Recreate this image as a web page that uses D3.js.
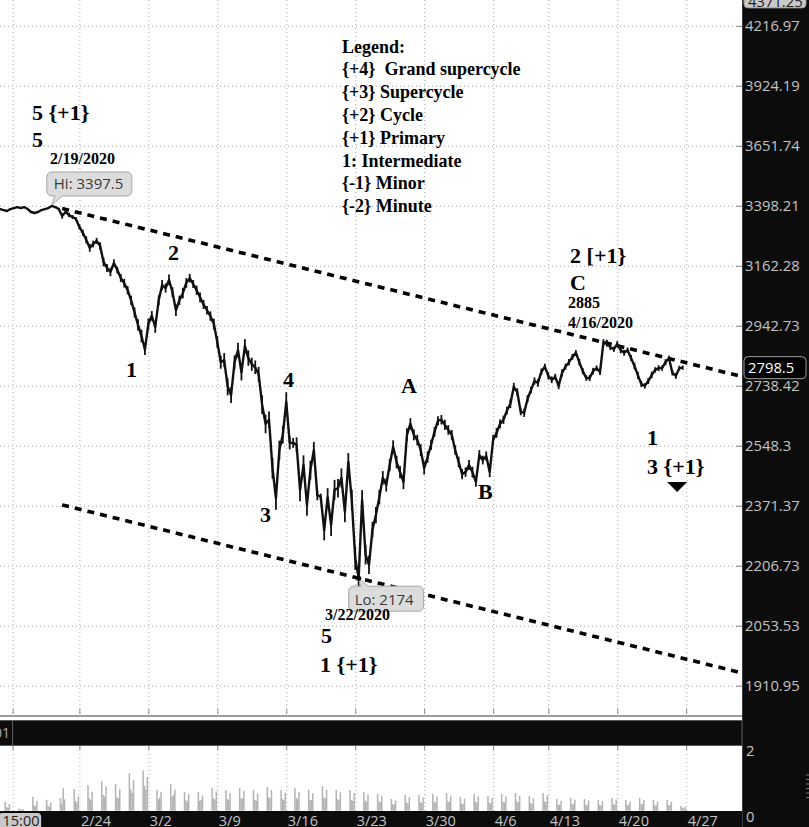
<!DOCTYPE html>
<html><head><meta charset="utf-8">
<script src="https://cdn.jsdelivr.net/npm/d3@7"></script>
<style>
html,body{margin:0;padding:0;background:#fff;}
svg{display:block;}
text{white-space:pre;}
</style>
</head><body>
<svg id="chart" width="809" height="827"></svg>
<script>
// ---------------- DATA ----------------
// session index 0 = 2/24 session open; price sampled every quarter session
const priceStart = -5.75;
const priceStep = 0.25;
const prices = [
 3385,3381,3377,3385,3389,3393,3389,3393,3385,3373,
 3369,3373,3381,3385,3389,3397.5,3393,3385,3357,3373,
 3361,3353,3345,3313,3290,3262,3231,3246,3258,3239,
 3177,3154,3139,3173,3146,3116,3097,3071,3034,2990,
 2946,2907,2860,2949,2978,2939,3034,3090,3079,3109,
 3064,2998,3034,3060,3098,3116,3094,3071,3045,3019,
 2998,2977,2949,2886,2817,2824,2735,2708,2817,2858,
 2783,2872,2831,2810,2800,2776,2677,2616,2629,2481,
 2393,2535,2582,2686,2557,2557,2551,2416,2490,2374,
 2475,2535,2402,2396,2303,2396,2317,2417,2422,2452,
 2354,2499,2388,2227,2174,2388,2236,2209,2304,2345,
 2396,2452,2431,2490,2545,2499,2469,2440,2582,2616,
 2582,2566,2535,2481,2514,2551,2591,2626,2629,2613,
 2597,2582,2535,2499,2463,2469,2490,2469,2440,2520,
 2505,2517,2469,2566,2588,2616,2629,2658,2680,2735,
 2718,2654,2651,2696,2725,2754,2748,2785,2802,2771,
 2758,2768,2738,2781,2802,2817,2835,2849,2817,2787,
 2764,2764,2787,2797,2784,2885,2882,2868,2861,2879,
 2858,2849,2858,2831,2804,2773,2744,2738,2754,2774,
 2791,2797,2797,2817,2831,2781,2771,2797,2798.5
];
// intra-period trading range (points) for each sample
const swings = [
 8,6,7,6,8,6,7,8,6,9,8,7,6,8,7,6,9,10,
 22,14,18,16,15,20,24,28,30,26,24,28,34,30,32,28,26,30,32,30,
 34,36,40,44,38,40,34,42,36,38,34,40,36,42,34,38,36,32,30,34,36,32,30,34,38,40,
 44,48,56,52,46,50,54,48,52,44,46,50,60,58,52,62,66,58,54,62,
 40,30,46,64,58,62,56,50,30,20,56,52,60,58,54,56,58,54,60,62,48,
 56,52,48,44,46,42,40,38,36,40,38,36,42,40,36,34,32,36,38,34,32,30,28,30,32,30,
 30,28,32,30,28,30,32,28,30,26,28,30,32,30,28,
 26,24,28,26,24,22,26,24,22,24,26,22,20,24,22,20,22,24,20,22,
 20,18,22,20,18,20,22,18,20,22,24,20,18,20,22,20,18,20,22,24,
 20,18,20,22,18,20,18,20,16,18,20,16,14
];
const hiIndex = 15, hiPrice = 3397.5;
const loIndex = 104, loPrice = 2174;
const peakIndex = 175, peakPrice = 2885;
const lastPrice = 2798.5;
const topPrice = 4371.25;
const trendStartSession = -1.25;

const yTickValues = [4216.97,3924.19,3651.74,3398.21,3162.28,2942.73,2738.42,2548.3,2371.37,2206.73,2053.53,1910.95];
const xTickLabels = ["15:00","2/24","3/2","3/9","3/16","3/23","3/30","4/6","4/13","4/20","4/27"];
const xTickSessions = [-4.84,0,5,10,15,20,25,30,34,39,44];

// volume: one row per session (first row = session -6), four intraday bars each
const volFirstSession = -6;
const volBarOffsets = [0.62,0.72,0.82,0.92];
const volume = [
 [0.30,0.12,0.10,0.22],[0.07,0.04,0.03,0.05],[0.46,0.18,0.15,0.31],[0.36,0.17,0.12,0.27],
 [0.42,0.24,0.75,0.38],[0.72,0.33,0.26,0.48],[0.85,0.42,0.36,0.62],[0.98,0.52,0.47,0.81],
 [0.89,0.44,0.41,0.72],[1.25,0.71,0.58,1.02],[1.34,0.83,0.69,1.12],[0.69,0.38,0.44,0.63],
 [0.89,0.47,0.52,0.70],[0.62,0.35,0.31,0.55],[0.62,0.33,0.36,0.51],[0.75,0.41,0.37,0.64],
 [0.69,0.39,0.34,0.58],[0.75,0.42,0.40,0.66],[0.69,0.36,0.33,0.57],[0.79,0.45,0.41,0.69],
 [0.69,0.40,0.35,0.60],[0.75,0.43,0.38,0.62],[0.69,0.37,0.35,0.58],[0.82,0.44,0.40,0.70],
 [0.69,0.38,0.36,0.61],[0.69,0.36,0.33,0.59],[0.62,0.34,0.30,0.54],[0.56,0.31,0.28,0.49],
 [0.39,0.22,0.20,0.34],[0.52,0.27,0.25,0.45],[0.52,0.29,0.26,0.44],[0.56,0.30,0.27,0.47],
 [0.59,0.31,0.29,0.50],[0.46,0.24,0.22,0.40],[0.56,0.30,0.27,0.48],[0.49,0.26,0.24,0.42],
 [0.56,0.29,0.27,0.47],[0.59,0.32,0.28,0.50],[0.49,0.25,0.23,0.41],[0.59,0.31,0.29,0.51],
 [0.39,0.21,0.19,0.33],[0.43,0.23,0.21,0.37],[0.39,0.20,0.19,0.34],[0.36,0.19,0.17,0.31],
 [0.43,0.22,0.20,0.37],[0.36,0.19,0.18,0.30],[0.43,0.23,0.21,0.36],[0.36,0.18,0.17,0.31],
 [0.36,0.19,0.18,0.30],[0.16,0.09,0.07,0.12]
];
const volTickValues = [0,2];

const legendLines = ["Legend:","{+4}  Grand supercycle","{+3} Supercycle","{+2} Cycle","{+1} Primary","1: Intermediate","{-1} Minor","{-2} Minute"];

// wave annotations anchored in (session, price) space
const waveLabels = [
 {text:"5 {+1}", t:-3.44, p:3766.5, kind:"big"},
 {text:"5", t:-3.44, p:3646.6, kind:"big"},
 {text:"2/19/2020", t:-2.13, p:3572.9, kind:"small"},
 {text:"2", t:6.42, p:3184.3, kind:"big"},
 {text:"1", t:3.38, p:2767.4, kind:"big"},
 {text:"4", t:14.76, p:2734.4, kind:"big"},
 {text:"3", t:13.10, p:2325.6, kind:"big"},
 {text:"A", t:23.32, p:2714.8, kind:"big"},
 {text:"B", t:28.90, p:2390.6, kind:"big"},
 {text:"2 [+1}", t:35.58, p:3172.9, kind:"big"},
 {text:"C", t:35.58, p:3071.8, kind:"big"},
 {text:"2885", t:35.43, p:3006.2, kind:"small"},
 {text:"4/16/2020", t:35.43, p:2934.9, kind:"small"},
 {text:"1", t:41.16, p:2550.7, kind:"big"},
 {text:"3 {+1}", t:41.16, p:2463.5, kind:"big"},
 {text:"3/22/2020", t:17.81, p:2067.8, kind:"small"},
 {text:"5", t:17.52, p:2011.5, kind:"big"},
 {text:"1 {+1}", t:17.45, p:1942.7, kind:"big"}
];
const arrowAnchor = {t:43.34, p:2440};

// ---------------- LAYOUT ----------------
const W = 809, H = 827;
const plotR = 742, plotB = 713;
const volTop = 746, volBot = 811;
const serif = "'Liberation Serif','Times New Roman',serif";
const sans = "'Open Sans','Noto Sans',sans-serif";
const axisCol = "#c4c4c4";
const dark = "#0c0c0c";

const svg = d3.select("#chart");
const x = d3.scaleLinear().domain([0,44]).range([79.4,686.2]);
const y = d3.scaleLog().domain([1910.95,3398.21]).range([685.7,205.8]);
const yVol = d3.scaleLinear().domain([0,2]).range([810.7,750.6]);
const tOf = i => priceStart + i*priceStep;

svg.append("rect").attr("width",W).attr("height",H).attr("fill","#fff");

const defs = svg.append("defs");
defs.append("clipPath").attr("id","plotClip").append("rect").attr("x",0).attr("y",0).attr("width",plotR).attr("height",plotB);

// grid (main)
const gridH = svg.append("g").call(d3.axisRight(y).tickValues(yTickValues).tickSize(plotR).tickFormat(""));
const gridV = svg.append("g").call(d3.axisBottom(x).tickValues(xTickSessions).tickSize(plotB).tickFormat(""));
const gridV2 = svg.append("g").attr("transform",`translate(0,${volTop})`).call(d3.axisBottom(x).tickValues(xTickSessions).tickSize(volBot-volTop).tickFormat(""));
[gridH,gridV,gridV2].forEach(g=>{
  g.select(".domain").remove();
  g.selectAll("line").attr("stroke","#a8a8a8").attr("stroke-width",1).attr("stroke-dasharray","1,3");
});

// small ticks at panel edges
const edgeTicks = svg.append("g").attr("transform",`translate(0,${plotB-4})`).call(d3.axisBottom(x).tickValues(xTickSessions).tickSize(5).tickFormat(""));
const edgeTicks2 = svg.append("g").attr("transform",`translate(0,${volTop})`).call(d3.axisBottom(x).tickValues(xTickSessions).tickSize(4).tickFormat(""));
[edgeTicks,edgeTicks2].forEach(g=>{g.select(".domain").remove(); g.selectAll("line").attr("stroke","#8a8a8a");});

// volume bars
const volData = [];
volume.forEach((row,si)=>row.forEach((v,j)=>volData.push({t:volFirstSession+si+volBarOffsets[j], v})));
svg.append("g").selectAll("rect").data(volData).join("rect")
  .attr("x",d=>x(d.t)-0.7).attr("width",1.5)
  .attr("y",d=>yVol(d.v)).attr("height",d=>yVol(0)-yVol(d.v))
  .attr("fill","#b3b3b3");

// trendlines (upper through hi & peak, lower parallel through lo)
const plotG = svg.append("g").attr("clip-path","url(#plotClip)");
const x1 = x(tOf(hiIndex)), y1 = y(hiPrice), x2 = x(tOf(peakIndex)), y2 = y(peakPrice);
const slope = (y2-y1)/(x2-x1);
const xs = x(trendStartSession);
const upper = [[xs, y1+slope*(xs-x1)],[plotR+10, y1+slope*(plotR+10-x1)]];
const xl = x(tOf(loIndex)), yl = y(loPrice);
const lower = [[xs, yl+slope*(xs-xl)],[plotR+10, yl+slope*(plotR+10-xl)]];
[upper,lower].forEach(seg=>{
  plotG.append("path").attr("d",d3.line()(seg)).attr("fill","none")
    .attr("stroke","#000").attr("stroke-width",3.6).attr("stroke-dasharray","7,6");
});

// price range ticks
plotG.append("g").selectAll("line").data(prices).join("line")
  .attr("x1",(d,i)=>x(tOf(i))).attr("x2",(d,i)=>x(tOf(i)))
  .attr("y1",(d,i)=>y(d+swings[i]/2)).attr("y2",(d,i)=>y(d-swings[i]/2))
  .attr("stroke","#111").attr("stroke-width",1.8);
// price line
plotG.append("path").datum(prices)
  .attr("d",d3.line().x((d,i)=>x(tOf(i))).y(d=>y(d)))
  .attr("fill","none").attr("stroke","#111").attr("stroke-width",2.4).attr("stroke-linejoin","round");

// Hi callout
const hx = x(tOf(hiIndex)), hy = y(hiPrice);
const hiG = svg.append("g");
hiG.append("rect").attr("x",hx-5).attr("y",hy-34).attr("width",85).attr("height",24).attr("rx",5)
  .attr("fill","#dcdcdc").attr("stroke","#a6a6a6");
hiG.append("path").attr("d",`M${hx+3},${hy-10.5} L${hx},${hy-1} L${hx+11},${hy-10.5}`).attr("fill","#dcdcdc").attr("stroke","#a6a6a6");
hiG.append("rect").attr("x",hx+3.5).attr("y",hy-12).attr("width",7).attr("height",2).attr("fill","#dcdcdc");
hiG.append("text").attr("x",hx+2).attr("y",hy-16.5).attr("font-family",sans).attr("font-size",15).attr("fill","#3a3a3a").text("Hi: "+hiPrice);

// Lo callout
const lx = x(tOf(loIndex)), ly = y(loPrice);
const loG = svg.append("g");
loG.append("rect").attr("x",lx-10).attr("y",ly+8).attr("width",75).attr("height",25).attr("rx",5)
  .attr("fill","#dcdcdc").attr("stroke","#a6a6a6");
loG.append("path").attr("d",`M${lx+2},${ly+8.5} L${lx},${ly} L${lx+10},${ly+8.5}`).attr("fill","#dcdcdc").attr("stroke","#a6a6a6");
loG.append("rect").attr("x",lx+2.5).attr("y",ly+8).attr("width",7).attr("height",2).attr("fill","#dcdcdc");
loG.append("text").attr("x",lx-4).attr("y",ly+27).attr("font-family",sans).attr("font-size",15).attr("fill","#3a3a3a").text("Lo: "+loPrice);
svg.append("circle").attr("cx",lx).attr("cy",ly).attr("r",2.5).attr("fill","#000");

// wave labels
svg.append("g").selectAll("text").data(waveLabels).join("text")
  .attr("x",d=>x(d.t)).attr("y",d=>y(d.p))
  .attr("font-family",serif).attr("font-weight","bold")
  .attr("font-size",d=>d.kind==="big"?22:16).attr("fill","#000")
  .text(d=>d.text);

// down arrow
const ax = x(arrowAnchor.t), ay = y(arrowAnchor.p);
svg.append("path").attr("d",`M${ax-10},${ay} L${ax+10},${ay} L${ax},${ay+10} Z`).attr("fill","#000");

// legend
svg.append("g").selectAll("text").data(legendLines).join("text")
  .attr("x",342).attr("y",(d,i)=>52.5+i*22.8)
  .attr("font-family",serif).attr("font-weight","bold").attr("font-size",18).attr("fill","#000")
  .text(d=>d);

// panel frames
svg.append("line").attr("x1",0).attr("x2",plotR).attr("y1",716).attr("y2",716).attr("stroke","#7c7c7c").attr("stroke-width",1.5);
svg.append("rect").attr("x",-1).attr("y",720.5).attr("width",plotR+1).attr("height",25).attr("fill",dark).attr("stroke","#5a5a5a");
svg.append("line").attr("x1",x(-4.84)).attr("x2",x(-4.84)).attr("y1",721).attr("y2",745).attr("stroke","#666");
svg.append("text").attr("x",10).attr("y",738).attr("text-anchor","end").attr("font-family",sans).attr("font-size",14).attr("fill","#aaa").text("01");

// right axis panel
svg.append("rect").attr("x",plotR).attr("y",0).attr("width",W-plotR).attr("height",H).attr("fill",dark);
svg.append("line").attr("x1",plotR+0.5).attr("x2",plotR+0.5).attr("y1",0).attr("y2",H).attr("stroke","#3a3a3a");

// price axis
const yAx = svg.append("g").attr("transform",`translate(${plotR},0)`).call(d3.axisRight(y).tickValues(yTickValues).tickSize(0).tickPadding(3).tickFormat(d=>String(d)));
yAx.select(".domain").remove();
yAx.selectAll("text").attr("font-family",sans).attr("font-size",14.8).attr("fill",axisCol);
const yTk = svg.append("g").attr("transform",`translate(${plotR},0)`).call(d3.axisLeft(y).tickValues(yTickValues).tickSize(6).tickFormat(""));
yTk.select(".domain").remove();
yTk.selectAll("line").attr("stroke","#8a8a8a");

// volume axis
const vAx = svg.append("g").attr("transform",`translate(${plotR},0)`).call(d3.axisRight(yVol).tickValues(volTickValues).tickSize(0).tickPadding(4).tickFormat(d3.format("d")));
vAx.select(".domain").remove();
vAx.selectAll("text").attr("font-family",sans).attr("font-size",14.8).attr("fill",axisCol);
vAx.selectAll(".tick").filter(d=>d===0).select("text").attr("dy","0.75em");

// last price box
const lpY = y(lastPrice);
svg.append("rect").attr("x",744).attr("y",lpY-11).attr("width",62).attr("height",22).attr("rx",4).attr("fill","#000").attr("stroke","#9a9a9a");
svg.append("text").attr("x",748).attr("y",lpY+5).attr("font-family",sans).attr("font-size",14.8).attr("fill","#fff").text(String(lastPrice));
// top price box (cut by the top edge)
const tpY = y(topPrice);
svg.append("rect").attr("x",744).attr("y",tpY-8).attr("width",62).attr("height",20).attr("rx",4).attr("fill","#c9c9c9").attr("stroke","#9a9a9a");
svg.append("text").attr("x",748).attr("y",tpY+11).attr("font-family",sans).attr("font-size",14.8).attr("fill","#222").text(String(topPrice));

// handle marks at far right
svg.append("g").selectAll("line").data(d3.range(6)).join("line")
  .attr("x1",806).attr("x2",809).attr("y1",(d)=>775+d*4.5).attr("y2",(d)=>775+d*4.5).attr("stroke","#777");

// bottom time axis
svg.append("rect").attr("x",0).attr("y",volBot).attr("width",plotR).attr("height",H-volBot).attr("fill",dark);
const xAx = svg.append("g").attr("transform",`translate(0,${volBot})`).call(d3.axisBottom(x).tickValues(xTickSessions).tickSize(0).tickPadding(0).tickFormat((d,i)=>xTickLabels[i]));
xAx.select(".domain").remove();
xAx.selectAll("text").attr("font-family",sans).attr("font-size",14.5).attr("fill",axisCol)
  .attr("text-anchor","start").attr("dx",1).attr("y",15).attr("dy",0);
// first label ("15:00") in a highlighted box
const firstTick = xAx.selectAll(".tick").filter((d,i)=>i===0);
firstTick.insert("rect","text").attr("x",-x(-4.84)-2).attr("y",2).attr("width",x(-4.84)+30).attr("height",18).attr("rx",4).attr("fill","#c9c9c9");
firstTick.select("text").attr("x",-x(-4.84)+2).attr("dx",0).attr("fill","#222");
</script>
</body></html>
